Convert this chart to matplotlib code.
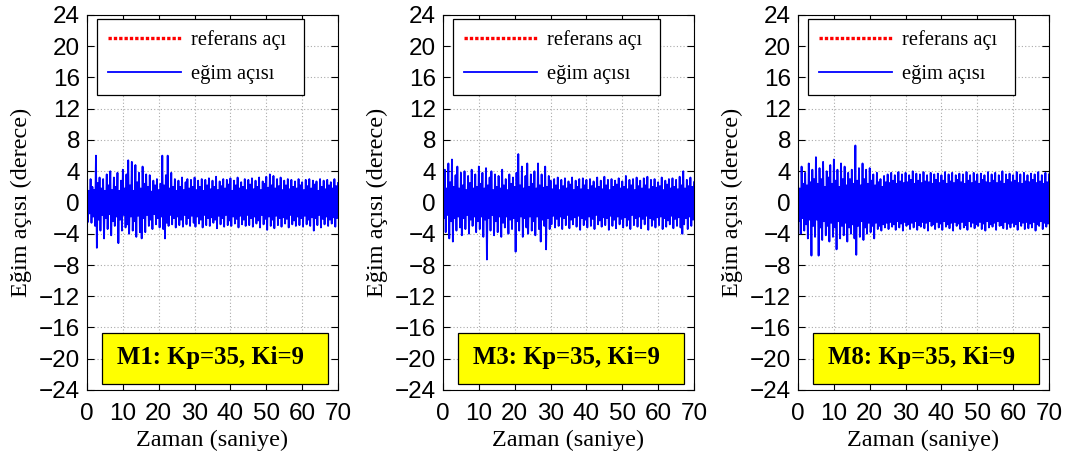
import matplotlib
matplotlib.use("Agg")
import matplotlib.pyplot as plt
import numpy as np
from matplotlib.patches import Rectangle

# zaman ekseni: tepe değerleri 0.5 s aralıkla, dipler aralarında
t_ust = np.arange(0, 70.01, 0.5)
t_alt = np.arange(0.25, 70, 0.5)

# M1
m1_ust = [2.8, 1.5, 3.0, 2.0, 1.6, 6.0, 2.5, 3.2, 1.8, 3.0,
          1.5, 3.6, 2.2, 4.0, 1.6, 3.2, 2.0, 3.8, 1.5, 2.8,
          4.2, 1.8, 3.6, 5.4, 2.2, 5.2, 1.5, 4.8, 2.6, 3.8,
          1.8, 4.6, 2.4, 3.6, 2.0, 3.5, 1.4, 2.8, 2.2, 3.0,
          1.6, 2.4, 6.0, 2.2, 3.5, 6.0, 1.8, 3.8, 2.0, 3.0,
          1.5, 2.8, 2.0, 3.2, 1.6, 2.6, 3.0, 1.8, 2.9, 2.0,
          3.2, 1.6, 2.8, 2.0, 3.0, 1.5, 2.9, 2.2, 3.1, 1.7,
          2.8, 2.0, 3.3, 1.6, 2.7, 2.1, 3.0, 1.8, 2.9, 2.3,
          3.1, 1.5, 2.8, 2.2, 3.2, 1.8, 2.6, 2.0, 3.0, 1.6,
          2.9, 2.3, 3.1, 1.7, 2.8, 2.0, 3.2, 1.6, 2.7, 2.4,
          3.3, 1.9, 3.6, 2.2, 3.4, 1.8, 3.0, 2.1, 3.2, 1.6,
          2.8, 2.2, 3.0, 1.7, 2.9, 2.0, 2.7, 1.8, 3.0, 2.2,
          2.6, 1.6, 2.9, 2.1, 3.0, 1.8, 2.8, 2.3, 2.7, 1.5,
          3.0, 2.0, 2.8, 1.7, 2.9, 2.2, 2.6, 1.8, 3.0, 2.1,
          2.5]
m1_alt = [-2.5, -1.4, -2.6, -1.8, -3.0, -5.8, -2.2, -3.6, -1.6, -4.6,
          -2.0, -3.4, -1.5, -4.2, -2.4, -3.0, -1.8, -5.2, -2.2, -3.6,
          -1.6, -3.2, -2.8, -4.0, -1.8, -3.6, -2.4, -4.4, -1.7, -3.8,
          -4.6, -2.0, -3.8, -1.6, -3.0, -2.2, -3.4, -1.5, -2.8, -2.0,
          -3.2, -1.8, -3.4, -4.6, -2.6, -3.0, -1.6, -2.8, -2.0, -3.2,
          -1.8, -2.9, -2.2, -3.1, -1.6, -2.8, -2.0, -3.0, -1.7, -2.6,
          -3.1, -1.8, -2.7, -2.2, -3.2, -1.6, -2.9, -2.0, -3.0, -1.9,
          -2.6, -2.2, -3.3, -1.7, -2.8, -2.0, -3.1, -1.6, -2.9, -2.3,
          -3.0, -1.8, -2.7, -2.1, -3.2, -1.7, -2.8, -2.2, -3.0, -1.6,
          -2.9, -2.0, -3.1, -1.8, -2.7, -2.3, -3.2, -1.6, -2.8, -2.1,
          -3.5, -1.8, -3.0, -2.2, -3.3, -1.7, -2.9, -2.0, -3.1, -1.9,
          -2.7, -2.1, -3.2, -1.6, -2.8, -2.3, -3.0, -1.8, -2.9, -2.0,
          -3.1, -1.7, -2.8, -2.2, -3.0, -1.9, -3.6, -2.0, -2.9, -1.6,
          -3.2, -2.1, -2.8, -1.8, -3.0, -2.2, -2.7, -1.9, -3.1, -2.0]

# M3
m3_ust = [2.5, 4.2, 1.8, 5.0, 2.6, 5.5, 2.0, 3.5, 4.6, 1.8,
          3.8, 2.2, 4.0, 1.6, 3.4, 2.5, 4.2, 1.8, 3.6, 2.0,
          4.6, 2.4, 3.8, 1.8, 4.4, 2.2, 3.2, 4.0, 1.6, 3.6,
          2.0, 3.4, 1.8, 4.2, 2.2, 3.0, 1.6, 3.6, 2.4, 3.2,
          2.0, 3.8, 6.2, 2.2, 4.6, 1.8, 3.4, 5.0, 2.0, 3.6,
          2.4, 4.0, 1.8, 5.0, 2.2, 3.6, 1.9, 4.6, 2.0, 3.4,
          2.8, 1.7, 3.0, 2.2, 3.2, 1.6, 2.9, 2.1, 3.1, 1.8,
          2.7, 2.3, 3.2, 1.6, 2.8, 2.0, 3.0, 1.7, 3.1, 2.2,
          2.9, 1.6, 3.0, 2.1, 2.7, 1.8, 3.2, 2.0, 2.8, 1.7,
          3.3, 2.2, 2.9, 1.6, 3.0, 2.0, 2.8, 2.3, 3.1, 1.8,
          2.7, 2.0, 3.4, 1.7, 2.9, 2.2, 3.0, 1.6, 3.2, 2.1,
          2.8, 1.8, 3.1, 2.2, 3.3, 1.7, 2.9, 2.0, 3.0, 1.9,
          2.6, 2.1, 3.2, 1.6, 2.8, 2.3, 3.0, 1.8, 3.1, 2.0,
          2.9, 1.7, 3.3, 2.2, 4.0, 1.8, 2.9, 2.1, 3.2, 2.0,
          2.6]
m3_alt = [-2.0, -3.8, -1.6, -4.6, -2.4, -5.0, -2.0, -3.6, -1.8, -3.2,
          -4.2, -2.0, -3.4, -1.6, -4.0, -2.2, -3.0, -1.8, -3.8, -2.4,
          -3.4, -1.8, -4.4, -2.2, -7.3, -2.0, -3.6, -1.6, -4.2, -2.4,
          -3.8, -1.8, -4.4, -2.6, -3.2, -1.8, -4.0, -2.2, -3.4, -2.0,
          -6.3, -2.4, -3.6, -1.8, -4.4, -2.0, -3.2, -4.0, -1.8, -3.6,
          -2.4, -4.2, -1.8, -3.4, -5.0, -2.2, -3.0, -6.0, -2.0, -3.4,
          -2.8, -1.7, -3.2, -2.1, -3.0, -1.8, -3.4, -2.0, -2.9, -1.6,
          -3.3, -2.2, -2.8, -1.9, -3.1, -1.7, -3.5, -2.0, -2.9, -2.2,
          -3.2, -1.8, -3.0, -2.1, -3.4, -1.6, -2.8, -2.3, -3.1, -1.9,
          -2.9, -2.0, -3.5, -1.7, -3.0, -2.2, -3.3, -1.8, -2.8, -2.1,
          -3.2, -1.9, -3.0, -2.2, -3.4, -1.6, -2.9, -2.0, -3.1, -1.8,
          -3.3, -2.1, -2.8, -1.7, -3.5, -2.0, -3.0, -2.2, -3.2, -1.9,
          -2.9, -1.8, -3.4, -2.0, -3.1, -2.3, -2.8, -1.7, -3.3, -2.1,
          -3.0, -1.9, -3.2, -4.0, -2.8, -2.0, -3.4, -1.8, -3.0, -2.2]

# M8
m8_ust = [3.0, 1.8, 4.6, 2.4, 3.8, 2.2, 5.0, 2.6, 4.2, 3.0,
          5.8, 2.4, 4.4, 3.0, 5.2, 2.0, 4.0, 3.2, 4.8, 2.4,
          5.5, 2.8, 4.2, 2.0, 5.0, 3.0, 4.6, 2.2, 3.8, 3.0,
          4.2, 2.4, 7.3, 2.8, 4.4, 2.2, 5.0, 3.0, 4.2, 2.4,
          4.4, 2.8, 3.6, 2.2, 3.8, 2.6, 3.0, 2.0, 3.4, 2.6,
          3.6, 2.5, 3.8, 2.8, 3.5, 2.4, 3.9, 2.7, 3.6, 2.5,
          3.8, 2.6, 3.5, 2.9, 4.0, 2.4, 3.7, 2.8, 3.6, 2.5,
          3.9, 2.7, 3.5, 2.6, 3.8, 2.4, 3.6, 2.9, 3.7, 2.5,
          3.5, 2.8, 3.9, 2.4, 3.6, 2.7, 3.8, 2.5, 3.5, 2.9,
          3.7, 2.6, 3.6, 2.4, 3.9, 2.8, 3.5, 2.5, 3.8, 2.7,
          3.6, 2.4, 3.7, 2.9, 3.5, 2.6, 3.9, 2.5, 3.6, 2.8,
          3.8, 2.5, 3.5, 2.7, 4.0, 2.4, 3.6, 2.9, 3.7, 2.6,
          3.5, 2.8, 3.9, 2.5, 3.6, 2.4, 3.8, 2.7, 3.5, 2.6,
          3.7, 2.9, 3.6, 2.5, 3.9, 2.7, 3.5, 2.4, 3.8, 2.6,
          3.6]
m8_alt = [-2.4, -4.0, -2.0, -3.6, -2.8, -4.6, -2.2, -6.8, -3.0, -4.4,
          -2.2, -6.8, -3.2, -4.8, -2.4, -4.2, -3.0, -5.0, -2.6, -4.4,
          -3.2, -6.0, -2.4, -4.6, -3.0, -4.2, -2.6, -5.0, -3.2, -4.0,
          -2.8, -4.6, -6.7, -3.0, -4.4, -2.4, -4.8, -3.2, -4.0, -2.6,
          -3.8, -3.0, -4.6, -2.6, -3.4, -3.0, -3.6, -2.8, -3.2, -2.6,
          -3.4, -2.5, -3.1, -2.8, -3.5, -2.4, -3.2, -2.7, -3.6, -2.5,
          -3.0, -2.8, -3.4, -2.6, -3.2, -2.4, -3.5, -2.9, -3.1, -2.5,
          -3.3, -2.6, -3.6, -2.4, -3.0, -2.8, -3.4, -2.5, -3.2, -2.7,
          -3.5, -2.4, -3.1, -2.8, -3.3, -2.6, -3.6, -2.5, -3.0, -2.7,
          -3.4, -2.5, -3.2, -2.9, -3.5, -2.4, -3.1, -2.6, -3.3, -2.8,
          -3.0, -2.5, -3.4, -2.7, -3.6, -2.4, -3.2, -2.8, -3.1, -2.6,
          -3.5, -2.4, -3.0, -2.9, -3.3, -2.5, -3.4, -2.7, -3.2, -2.6,
          -3.1, -2.8, -3.5, -2.4, -3.0, -2.6, -3.4, -2.5, -3.3, -2.7,
          -3.2, -2.5, -3.6, -2.8, -3.0, -2.4, -3.4, -2.6, -3.1, -2.7]

basliklar = ["M1: Kp=35, Ki=9", "M3: Kp=35, Ki=9", "M8: Kp=35, Ki=9"]
seriler = [(m1_ust, m1_alt), (m3_ust, m3_alt), (m8_ust, m8_alt)]

W, H = 1069, 461
fig = plt.figure(figsize=(W / 100, H / 100), dpi=100)
sol_px = [87, 443, 798]
gen_px, ust_px, alt_px = 251, 15, 390

for i in range(3):
    ax = fig.add_axes([sol_px[i] / W, (H - alt_px) / H, gen_px / W, (alt_px - ust_px) / H])
    ust, alt = seriler[i]
    t = np.empty(len(t_ust) + len(t_alt))
    y = np.empty_like(t)
    t[0::2] = t_ust
    t[1::2] = t_alt
    y[0::2] = ust
    y[1::2] = alt

    ax.plot([0, 70], [0, 0], color='red', ls=(0, (1, 0.6)), lw=2.4, label='referans açı')
    ax.plot(t, y, color='blue', lw=1.3, label='eğim açısı')

    ax.set_xlim(0, 70)
    ax.set_ylim(-24, 24)
    ax.set_xticks(np.arange(0, 71, 10))
    ax.set_yticks(np.arange(-24, 25, 4))
    ax.grid(True, ls=(0, (1, 2)), color='#aaaaaa', lw=0.8)
    ax.tick_params(direction='in', top=True, right=True, length=5, labelsize=17.5)
    ax.tick_params(axis='x', pad=9)
    ax.tick_params(axis='y', pad=5)
    for lab in ax.get_xticklabels() + ax.get_yticklabels():
        lab.set_family('Liberation Sans')
    for sp in ax.spines.values():
        sp.set_linewidth(0.8)

    ax.set_xlabel('Zaman (saniye)', family='Liberation Serif', fontsize=17.5)
    ax.set_ylabel('Eğim açısı (derece)', family='Liberation Serif', fontsize=17.5)
    ax.xaxis.set_label_coords(0.5, -0.105)
    ax.yaxis.set_label_coords(-0.22, 0.5)

    leg = ax.legend(loc='upper left', bbox_to_anchor=(0.04, 0.011, 0.825, 0.978),
                    mode='expand', prop={'family': 'Liberation Serif', 'size': 14.8},
                    fancybox=False, framealpha=1, edgecolor='black',
                    borderpad=0.55, labelspacing=0.7, handlelength=3.55,
                    handletextpad=0.45, borderaxespad=0)
    leg.get_frame().set_linewidth(0.9)

    ax.add_patch(Rectangle((0.06, 0.016), 0.9, 0.136, transform=ax.transAxes,
                           facecolor='yellow', edgecolor='black', lw=0.9, zorder=5))
    ax.text(0.12, 0.087, basliklar[i], transform=ax.transAxes, family='Liberation Serif',
            fontweight='bold', fontsize=17.8, va='center', ha='left', zorder=6)

fig.savefig('out.png', dpi=100)
